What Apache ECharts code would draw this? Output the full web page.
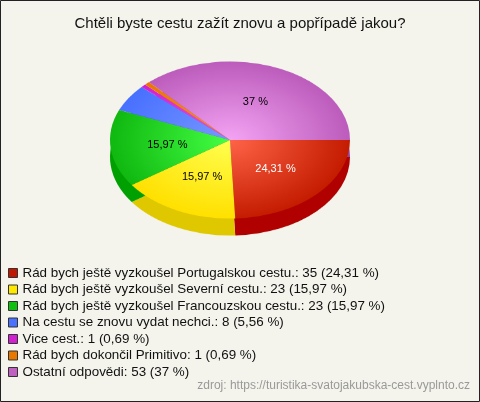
<!DOCTYPE html>
<html>
<head>
<meta charset="utf-8">
<script src="https://cdn.jsdelivr.net/npm/echarts@6/dist/echarts.min.js"></script>
<style>
  html, body { margin: 0; padding: 0; }
  #wrap { position: relative; width: 480px; height: 402px; background: #f4f4ec; overflow: hidden; }
  #pie, #main { position: absolute; left: 0; top: 0; width: 480px; height: 402px; }
  #pie { transform-origin: 0 0; }
</style>
</head>
<body>
<div id="wrap"><div id="pie"></div><div id="main"></div></div>
<script>
// data
const titleText = 'Chtěli byste cestu zažít znovu a popřípadě jakou?';
const names = [
  'Rád bych ještě vyzkoušel Portugalskou cestu.',
  'Rád bych ještě vyzkoušel Severní cestu.',
  'Rád bych ještě vyzkoušel Francouzskou cestu.',
  'Na cestu se znovu vydat nechci.',
  'Vice cest.',
  'Rád bych dokončil Primitivo',
  'Ostatní odpovědi'
];
const counts = [35, 23, 23, 8, 1, 1, 53];
const percents = ['24,31', '15,97', '15,97', '5,56', '0,69', '0,69', '37'];
const sourceText = 'zdroj: https://turistika-svatojakubska-cest.vyplnto.cz';

// colours
const legendColors = ['#c01800', '#ffe800', '#10c010', '#4a72ff', '#d020d0', '#e87800', '#c060c0'];
const topInner = ['#ff6448', '#ffff50', '#44ff44', '#7898ff', '#f050f0', '#ff9020', '#f4a4f4'];
const topOuter = ['#c41c00', '#ffe000', '#10b810', '#4870ff', '#d020d0', '#e87800', '#bc5cbc'];
const sideColors = ['#b00000', '#e0c800', '#00a000', '#3050d0', '#a010a0', '#c05000', '#9a409a'];
const labelColors = ['#fff', '#000', '#000', '#000', '#000', '#000', '#000'];

// pie geometry on screen
const cx = 230, cy = 140, rx = 120, ry = 78.5, depth = 17;
const squash = ry / rx;
const font = "'Liberation Sans', Arial, sans-serif";

// flattened pie (top face + side), drawn round and squashed with css
const pieEl = document.getElementById('pie');
pieEl.style.transform = 'scaleY(' + squash + ')';
const pieChart = echarts.init(pieEl, null, { renderer: 'canvas' });
pieChart.setOption({
  animation: false,
  series: [
    {
      type: 'pie',
      silent: true,
      center: [cx, (cy + depth) / squash],
      radius: rx,
      startAngle: 0,
      clockwise: true,
      label: { show: false },
      labelLine: { show: false },
      itemStyle: { borderWidth: 0 },
      data: counts.map((v, i) => ({ name: names[i], value: v, itemStyle: { color: sideColors[i] } }))
    },
    {
      type: 'pie',
      silent: true,
      center: [cx, cy / squash],
      radius: rx,
      startAngle: 0,
      clockwise: true,
      label: { show: false },
      labelLine: { show: false },
      itemStyle: { borderWidth: 0 },
      data: counts.map((v, i) => ({
        name: names[i],
        value: v,
        itemStyle: {
          color: {
            type: 'radial', x: cx, y: cy / squash, r: rx, global: true,
            colorStops: [{ offset: 0, color: topInner[i] }, { offset: 1, color: topOuter[i] }]
          }
        }
      }))
    }
  ]
});

// title, legend, labels
const chart = echarts.init(document.getElementById('main'));
chart.setOption({
  animation: false,
  title: {
    text: titleText,
    left: 'center',
    top: 11,
    textStyle: { fontFamily: font, fontSize: 15, fontWeight: 'normal', color: '#111' }
  },
  legend: {
    orient: 'vertical',
    left: 8,
    top: 265,
    padding: 0,
    itemWidth: 9,
    itemHeight: 9,
    itemGap: 0.5,
    icon: 'rect',
    selectedMode: false,
    textStyle: { fontFamily: font, fontSize: 13.4, color: '#111', lineHeight: 16 },
    formatter: (name) => {
      const i = names.indexOf(name);
      return name + ': ' + counts[i] + ' (' + percents[i] + ' %)';
    },
    data: names.map((n, i) => ({
      name: n,
      itemStyle: { color: legendColors[i], borderColor: '#333', borderWidth: 1 }
    }))
  },
  graphic: [
    {
      type: 'rect',
      shape: { x: 0.5, y: 0.5, width: 479, height: 401 },
      style: { fill: 'none', stroke: '#222', lineWidth: 1 },
      silent: true
    },
    {
      type: 'text',
      right: 10,
      top: 380,
      style: { text: sourceText, fill: '#999', font: '12px ' + font },
      silent: true
    }
  ],
  series: [{
    type: 'pie',
    silent: true,
    center: [cx, cy],
    radius: rx,
    startAngle: 0,
    clockwise: true,
    avoidLabelOverlap: false,
    itemStyle: { color: 'rgba(0,0,0,0)', borderWidth: 0 },
    labelLine: { show: false },
    label: {
      position: 'inside',
      fontFamily: font,
      fontSize: 11,
      formatter: (p) => percents[p.dataIndex] + ' %'
    },
    labelLayout: (params) => {
      const r = params.labelRect;
      return {
        x: r.x + r.width / 2,
        y: cy + (r.y + r.height / 2 - cy) * squash,
        align: 'center',
        verticalAlign: 'middle'
      };
    },
    data: counts.map((v, i) => ({
      name: names[i],
      value: v,
      label: { show: v >= 20, color: labelColors[i] }
    }))
  }]
});
</script>
</body>
</html>
